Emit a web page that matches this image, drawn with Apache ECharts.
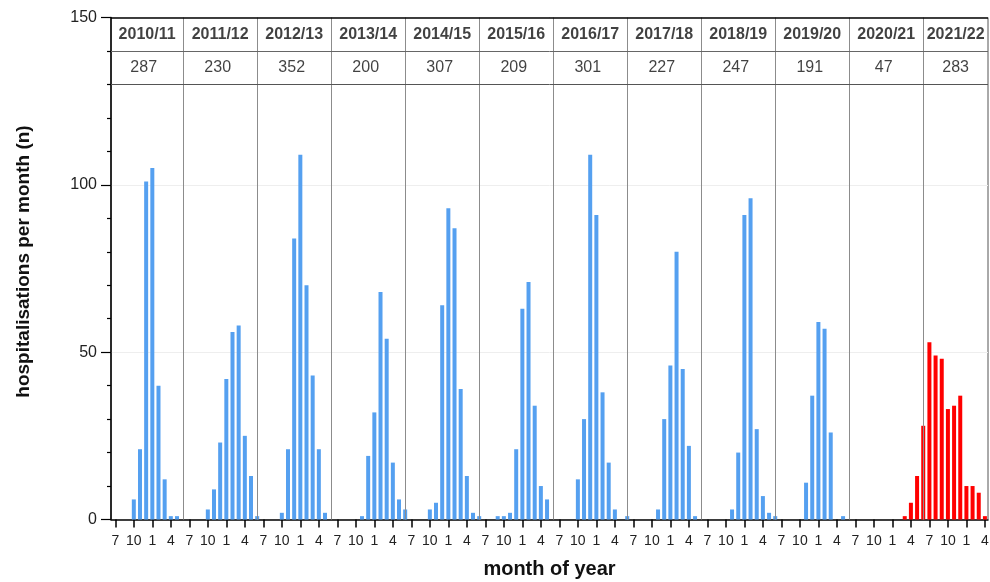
<!DOCTYPE html>
<html>
<head>
<meta charset="utf-8">
<script src="https://cdn.jsdelivr.net/npm/echarts@6/dist/echarts.min.js"></script>
<style>
  html, body { margin: 0; padding: 0; background: #fff; }
  #chart { width: 990px; height: 582px; }
</style>
</head>
<body>
<div id="chart"></div>
<script>
const seasons = ['2010/11', '2011/12', '2012/13', '2013/14', '2014/15', '2015/16',
  '2016/17', '2017/18', '2018/19', '2019/20', '2020/21', '2021/22'];
const seasonTotals = [287, 230, 352, 200, 307, 209, 301, 227, 247, 191, 47, 283];

// hospitalisations per month, July .. June of each season
const monthlyCounts = [
  [0, 0, 0, 6, 21, 101, 105, 40, 12, 1, 1, 0],     // 2010/11
  [0, 0, 0, 3, 9, 23, 42, 56, 58, 25, 13, 1],       // 2011/12
  [0, 0, 0, 2, 21, 84, 109, 70, 43, 21, 2, 0],      // 2012/13
  [0, 0, 0, 0, 1, 19, 32, 68, 54, 17, 6, 3],        // 2013/14
  [0, 0, 0, 3, 5, 64, 93, 87, 39, 13, 2, 1],        // 2014/15
  [0, 0, 1, 1, 2, 21, 63, 71, 34, 10, 6, 0],        // 2015/16
  [0, 0, 0, 12, 30, 109, 91, 38, 17, 3, 0, 1],      // 2016/17
  [0, 0, 0, 0, 3, 30, 46, 80, 45, 22, 1, 0],        // 2017/18
  [0, 0, 0, 0, 3, 20, 91, 96, 27, 7, 2, 1],         // 2018/19
  [0, 0, 0, 0, 11, 37, 59, 57, 26, 0, 1, 0],        // 2019/20
  [0, 0, 0, 0, 0, 0, 0, 0, 1, 5, 13, 28],           // 2020/21
  [53, 49, 48, 33, 34, 37, 10, 10, 8, 1]            // 2021/22 (to April)
];
const tickMonths = ['7', '10', '1', '4'];
// months drawn in red from here on (season, calendar month)
const redFrom = { season: '2020/21', month: 3 };

const BLUE = '#55a0f0';
const RED = '#ff0000';

const redStart = seasons.indexOf(redFrom.season) * 12 + ((redFrom.month + 5) % 12);
const barData = [];
monthlyCounts.forEach((row, s) => {
  row.forEach((v, m) => {
    const idx = s * 12 + m;
    if (v > 0) {
      barData.push({ value: [idx, v], itemStyle: { color: idx >= redStart ? RED : BLUE } });
    }
  });
});
const nMonths = (seasons.length - 1) * 12 + monthlyCounts[monthlyCounts.length - 1].length;
const xMin = -0.7;
const xMax = nMonths - 0.5;

// season dividers sit on the June bar of each season
const dividers = [];
for (let s = 1; s < seasons.length; s++) dividers.push(s * 12 - 1);
const edges = [xMin].concat(dividers, [xMax]);

const tickValues = [];
for (let i = 0; i < nMonths; i += 3) tickValues.push(i);

const headerLabels = [];
seasons.forEach((name, s) => {
  const centre = (edges[s] + edges[s + 1]) / 2;
  headerLabels.push({ value: [centre, 145, name], label: { fontWeight: 'bold' } });
  headerLabels.push({ value: [Math.min(s * 12 + 4.6, centre), 135, String(seasonTotals[s])] });
});

const chart = echarts.init(document.getElementById('chart'));
const font = 'Arial, "Liberation Sans", sans-serif';

chart.setOption({
  animation: false,
  textStyle: { fontFamily: font },
  grid: {
    left: 111, right: 2, top: 17.5, bottom: 62.5,
    outerBoundsMode: 'none',
    containLabel: false,
    show: true, borderColor: '#555', borderWidth: 1
  },
  xAxis: {
    type: 'value',
    min: xMin,
    max: xMax,
    name: 'month of year',
    nameLocation: 'middle',
    nameGap: 40,
    nameTextStyle: { fontSize: 20, fontWeight: 'bold', color: '#111', fontFamily: font },
    axisLine: { onZero: false, lineStyle: { color: '#000', width: 1.5 } },
    axisTick: { customValues: tickValues, length: 8, lineStyle: { color: '#000', width: 1.5 } },
    axisLabel: {
      customValues: tickValues,
      margin: 15,
      fontSize: 14,
      color: '#222',
      fontFamily: font,
      formatter: v => tickMonths[Math.round(v / 3) % 4]
    },
    splitLine: { show: false }
  },
  yAxis: {
    type: 'value',
    min: 0,
    max: 150,
    interval: 50,
    name: 'hospitalisations per month (n)',
    nameLocation: 'middle',
    nameRotate: 90,
    nameGap: 78,
    nameTextStyle: { fontSize: 19, fontWeight: 'bold', color: '#111', fontFamily: font, padding: [0, 0, 0, 14] },
    axisLine: { show: true, onZero: false, lineStyle: { color: '#000', width: 1.5 } },
    axisTick: { show: true, length: 10, lineStyle: { color: '#000', width: 1.2 } },
    minorTick: { show: true, splitNumber: 5, length: 4, lineStyle: { color: '#000', width: 1.2 } },
    axisLabel: { fontSize: 16, color: '#222', margin: 14, fontFamily: font },
    splitLine: { show: true, lineStyle: { color: '#eeeeee', width: 1 } }
  },
  series: [
    {
      type: 'bar',
      barWidth: 4,
      data: barData,
      markLine: {
        silent: true,
        symbol: ['none', 'none'],
        label: { show: false },
        animation: false,
        data: dividers.map(x => ({ xAxis: x, lineStyle: { color: '#8c8c8c', width: 1, type: 'solid' } }))
          .concat([
            { yAxis: 140, lineStyle: { color: '#666', width: 1, type: 'solid' } },
            { yAxis: 130, lineStyle: { color: '#555', width: 1, type: 'solid' } },
            { yAxis: 150, lineStyle: { color: '#000', width: 1.5, type: 'solid' } }
          ])
      }
    },
    {
      type: 'scatter',
      symbolSize: 0,
      silent: true,
      data: headerLabels,
      label: {
        show: true,
        position: 'inside',
        fontSize: 16,
        color: '#111',
        fontFamily: font,
        formatter: p => p.value[2]
      }
    }
  ]
});
</script>
</body>
</html>
